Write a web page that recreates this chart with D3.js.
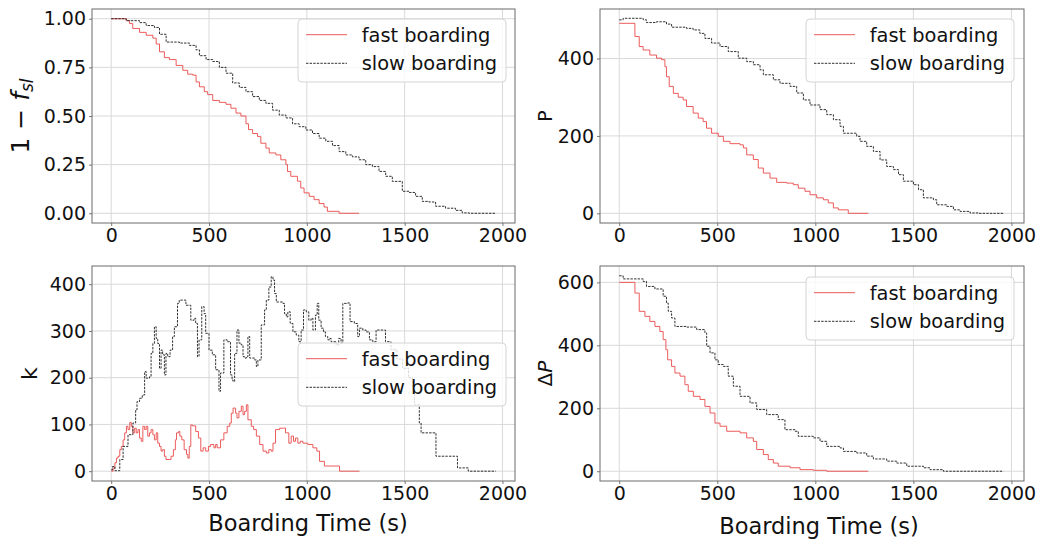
<!DOCTYPE html>
<html>
<head>
<meta charset="utf-8">
<script src="https://cdn.jsdelivr.net/npm/d3@7"></script>
<style>
  html, body { margin: 0; padding: 0; background: #fff; }
  svg { display: block; }
  text { font-family: "DejaVu Sans", sans-serif; fill: #111; }
</style>
</head>
<body>
<svg id="chart" width="1041" height="541"></svg>
<script>
// ---------------- DATA ----------------
const xTicks = [0, 500, 1000, 1500, 2000];
const seriesNames = ["fast boarding", "slow boarding"];

// Panel 1: 1 - f_sl
const fslTicks = [0, 0.25, 0.5, 0.75, 1.0];
const fslFast = [[0,1.0],[77,0.99],[94,0.975],[110,0.95],[145,0.93],[179,0.915],[213,0.9],[230,0.87],[247,0.83],[272,0.8],[298,0.79],[332,0.76],[366,0.735],[391,0.715],[417,0.71],[434,0.675],[451,0.65],[476,0.625],[493,0.61],[519,0.58],[553,0.57],[587,0.56],[612,0.54],[638,0.515],[663,0.5],[689,0.46],[702,0.43],[723,0.41],[748,0.395],[765,0.36],[791,0.335],[808,0.31],[842,0.3],[867,0.275],[893,0.25],[901,0.215],[918,0.19],[952,0.165],[969,0.13],[986,0.105],[1012,0.087],[1037,0.07],[1063,0.05],[1088,0.032],[1105,0.01],[1165,0.0],[1267,0.0]];
const fslSlow = [[0,1.0],[77,0.99],[145,0.98],[179,0.965],[221,0.955],[247,0.92],[281,0.88],[349,0.875],[400,0.863],[434,0.84],[451,0.81],[485,0.79],[519,0.78],[553,0.75],[587,0.72],[621,0.67],[655,0.647],[689,0.625],[723,0.6],[757,0.58],[791,0.565],[825,0.53],[859,0.505],[893,0.49],[927,0.46],[961,0.445],[995,0.428],[1029,0.41],[1063,0.386],[1097,0.37],[1131,0.348],[1165,0.317],[1199,0.3],[1233,0.29],[1267,0.275],[1301,0.25],[1335,0.24],[1369,0.215],[1403,0.19],[1437,0.164],[1488,0.113],[1522,0.107],[1556,0.087],[1590,0.061],[1624,0.058],[1658,0.036],[1709,0.026],[1760,0.015],[1794,0.002],[1830,0.0],[1964,0.0]];

// Panel 2: P
const pTicks = [0, 200, 400];
const pFast = [[0,491],[80,457],[102,431],[122,422],[156,409],[190,401],[216,397],[233,379],[241,353],[255,328],[276,310],[301,300],[326,293],[343,276],[377,259],[403,246],[428,237],[445,220],[471,207],[505,199],[531,186],[565,180],[616,177],[633,169],[650,151],[684,139],[709,117],[735,104],[769,91],[803,80],[854,78],[888,74],[913,65],[947,57],[973,48],[1007,40],[1041,35],[1066,27],[1092,14],[1117,9],[1168,0],[1270,0]];
const pSlow = [[0,500],[20,504],[122,500],[139,493],[190,495],[241,489],[267,481],[343,478],[377,474],[411,465],[437,452],[471,440],[514,431],[556,418],[607,401],[650,392],[684,384],[718,371],[735,358],[786,345],[820,336],[871,328],[905,311],[939,293],[973,280],[1024,268],[1058,255],[1092,242],[1126,225],[1143,207],[1211,199],[1228,186],[1262,173],[1296,160],[1330,138],[1364,121],[1398,113],[1424,100],[1449,83],[1500,74],[1526,61],[1551,40],[1602,35],[1619,22],[1670,18],[1704,9],[1738,5],[1789,1],[1830,0],[1959,0]];

// Panel 3: k
const kTicks = [0, 100, 200, 300, 400];
const kFast = [[0,0],[10,7],[19,18],[27,28],[35,32],[44,46],[52,53],[61,67],[69,82],[78,96],[86,89],[95,104],[103,96],[111,82],[120,92],[128,82],[137,89],[145,71],[154,64],[162,96],[171,89],[179,96],[187,75],[196,82],[204,89],[213,78],[221,67],[230,82],[238,60],[247,53],[255,43],[263,46],[272,32],[280,25],[297,25],[306,32],[318,46],[328,67],[334,82],[345,85],[351,75],[361,67],[373,46],[385,36],[392,28],[399,53],[407,99],[415,97],[432,85],[446,71],[458,43],[470,50],[483,43],[497,53],[508,57],[525,50],[534,57],[542,50],[559,67],[576,82],[593,96],[606,103],[614,124],[623,135],[636,124],[643,114],[653,128],[665,139],[674,121],[682,128],[691,142],[699,110],[716,96],[728,89],[742,75],[759,57],[776,43],[793,39],[806,46],[818,43],[827,60],[840,89],[861,92],[881,92],[891,82],[908,60],[920,75],[932,64],[942,71],[954,60],[966,64],[980,60],[1005,57],[1031,50],[1051,43],[1065,21],[1090,11],[1167,0],[1269,0]];
const kSlow = [[0,3],[7,10],[19,1],[35,1],[44,25],[61,53],[86,78],[111,103],[125,131],[132,149],[145,156],[159,163],[171,213],[179,199],[196,202],[204,252],[213,273],[221,309],[230,284],[238,273],[247,220],[255,259],[263,249],[272,206],[280,252],[289,245],[301,259],[314,288],[323,309],[339,359],[348,366],[373,366],[382,355],[399,355],[407,323],[424,327],[432,316],[441,245],[449,281],[463,352],[475,337],[483,295],[500,259],[517,249],[534,217],[551,171],[559,210],[576,281],[593,277],[610,206],[618,195],[623,192],[631,252],[643,302],[653,274],[665,270],[674,245],[682,242],[691,245],[699,288],[708,242],[733,238],[742,224],[750,238],[767,313],[784,345],[793,366],[806,394],[818,416],[827,409],[835,380],[844,362],[878,359],[886,337],[895,330],[903,341],[915,316],[929,298],[946,291],[959,277],[971,302],[983,345],[997,341],[1010,323],[1022,327],[1031,302],[1044,334],[1053,359],[1061,323],[1073,306],[1085,298],[1095,288],[1107,281],[1116,284],[1124,277],[1150,270],[1163,284],[1175,274],[1184,359],[1209,360],[1221,320],[1243,316],[1260,288],[1269,306],[1286,302],[1303,298],[1320,281],[1337,277],[1354,302],[1391,302],[1402,277],[1430,260],[1460,240],[1490,220],[1520,200],[1540,175],[1550,142],[1575,103],[1584,82],[1660,32],[1770,7],[1825,0],[1966,0]];

// Panel 4: ΔP
const dpTicks = [0, 200, 400, 600];
const dpFast = [[0,600],[80,566],[102,508],[131,492],[156,476],[182,460],[207,444],[224,418],[238,386],[247,354],[267,333],[284,312],[310,302],[335,275],[352,254],[378,238],[412,228],[437,206],[463,185],[488,153],[514,143],[548,127],[616,122],[650,106],[684,95],[701,69],[735,53],[760,37],[786,26],[811,16],[871,11],[922,5],[990,3],[1058,0],[1270,0]];
const dpSlow = [[0,621],[20,611],[122,603],[139,587],[182,579],[224,556],[241,534],[250,508],[267,487],[284,460],[344,458],[395,450],[437,439],[446,397],[463,376],[488,354],[505,339],[531,333],[556,302],[582,270],[616,238],[667,217],[701,196],[752,180],[811,164],[845,132],[896,127],[913,111],[990,106],[1024,95],[1058,79],[1126,74],[1143,63],[1211,58],[1262,48],[1296,39],[1364,32],[1415,26],[1466,16],[1551,11],[1585,5],[1653,0],[1959,0]];

// ---------------- DRAW ----------------
const svg = d3.select("#chart");
const xDomain = [-98, 2064];
const fastColor = "#ea4a4a";
const slowColor = "#1a1a1a";

const panels = [
  {fast: fslFast, slow: fslSlow, ticks: fslTicks, yDomain: [-0.05, 1.05], fmt: d3.format(".2f"),
   box: {x0: 92, x1: 515, y0: 9, y1: 223}, legend: {x: 298, y: 19}, xLabel: false, ylab: "fsl", ylx: 20},
  {fast: pFast, slow: pSlow, ticks: pTicks, yDomain: [-25, 528], fmt: d3.format("d"),
   box: {x0: 600, x1: 1024, y0: 9, y1: 223}, legend: {x: 806, y: 19}, xLabel: false, ylab: "P", ylx: 545},
  {fast: kFast, slow: kSlow, ticks: kTicks, yDomain: [-21, 439], fmt: d3.format("d"),
   box: {x0: 92, x1: 515, y0: 266, y1: 481}, legend: {x: 298, y: 343}, xLabel: true, xlx: 308, xly: 531, ylab: "k", ylx: 29},
  {fast: dpFast, slow: dpSlow, ticks: dpTicks, yDomain: [-31, 652], fmt: d3.format("d"),
   box: {x0: 600, x1: 1024, y0: 266, y1: 481}, legend: {x: 806, y: 277}, xLabel: true, xlx: 819, xly: 534, ylab: "dP", ylx: 545}
];

panels.forEach((p, i) => {
  const b = p.box;
  const x = d3.scaleLinear().domain(xDomain).range([b.x0, b.x1]);
  const y = d3.scaleLinear().domain(p.yDomain).range([b.y1, b.y0]);
  const g = svg.append("g");

  // grid
  g.append("g").selectAll("line").data(xTicks).join("line")
    .attr("x1", d => x(d)).attr("x2", d => x(d)).attr("y1", b.y0).attr("y2", b.y1)
    .attr("stroke", "#d9d9d9").attr("stroke-width", 1);
  g.append("g").selectAll("line").data(p.ticks).join("line")
    .attr("x1", b.x0).attr("x2", b.x1).attr("y1", d => y(d)).attr("y2", d => y(d))
    .attr("stroke", "#d9d9d9").attr("stroke-width", 1);

  // clip
  const clipId = "clip" + i;
  svg.append("clipPath").attr("id", clipId).append("rect")
    .attr("x", b.x0).attr("y", b.y0).attr("width", b.x1 - b.x0).attr("height", b.y1 - b.y0);

  const line = d3.line().x(d => x(d[0])).y(d => y(d[1])).curve(d3.curveStepAfter);
  const lines = g.append("g").attr("clip-path", `url(#${clipId})`);
  lines.append("path").datum(p.fast).attr("d", line)
    .attr("fill", "none").attr("stroke", fastColor).attr("stroke-width", 0.9);
  lines.append("path").datum(p.slow).attr("d", line)
    .attr("fill", "none").attr("stroke", slowColor).attr("stroke-width", 0.9)
    .attr("stroke-dasharray", "2.4,1.2");

  // axes
  const xa = g.append("g").attr("transform", `translate(0,${b.y1})`)
    .call(d3.axisBottom(x).tickValues(xTicks).tickSize(3).tickPadding(3).tickFormat(d3.format("d")));
  const ya = g.append("g").attr("transform", `translate(${b.x0},0)`)
    .call(d3.axisLeft(y).tickValues(p.ticks).tickSize(3).tickPadding(3).tickFormat(p.fmt));
  [xa, ya].forEach(a => {
    a.select(".domain").remove();
    a.selectAll(".tick line").attr("stroke", "#777");
    a.selectAll(".tick text").attr("font-size", 19).attr("font-family", "DejaVu Sans").attr("fill", "#111");
  });

  // spines
  g.append("rect").attr("x", b.x0).attr("y", b.y0).attr("width", b.x1 - b.x0).attr("height", b.y1 - b.y0)
    .attr("fill", "none").attr("stroke", "#6a6a6a").attr("stroke-width", 1);

  // y label
  const cy = (b.y0 + b.y1) / 2;
  const yl = g.append("text").attr("transform", `translate(${p.ylx},${cy}) rotate(-90)`)
    .attr("text-anchor", "middle").attr("dy", "0.36em");
  if (p.ylab === "fsl") {
    yl.attr("font-size", 25);
    yl.append("tspan").text("1 \u2212 ");
    yl.append("tspan").attr("font-style", "italic").text("f");
    yl.append("tspan").attr("font-style", "italic").attr("font-size", 17).attr("dy", "0.25em").text("sl");
  } else if (p.ylab === "P") {
    yl.attr("font-size", 19).text("P");
  } else if (p.ylab === "k") {
    yl.attr("font-size", 22).text("k");
  } else {
    yl.attr("font-size", 20);
    yl.append("tspan").text("\u0394");
    yl.append("tspan").attr("font-style", "italic").text("P");
  }

  // x label
  if (p.xLabel) {
    g.append("text").attr("x", p.xlx).attr("y", p.xly).attr("text-anchor", "middle")
      .attr("font-family", "Roboto").attr("font-size", 22.5).text("Boarding Time (s)");
  }

  // legend
  const L = g.append("g").attr("transform", `translate(${p.legend.x},${p.legend.y})`);
  L.append("rect").attr("width", 208).attr("height", 63).attr("rx", 4)
    .attr("fill", "#fff").attr("fill-opacity", 0.8).attr("stroke", "#d4d4d4").attr("stroke-width", 1);
  seriesNames.forEach((name, j) => {
    const ly = 15.7 + j * 28.6;
    L.append("line").attr("x1", 8).attr("x2", 49).attr("y1", ly).attr("y2", ly)
      .attr("stroke", j === 0 ? fastColor : slowColor).attr("stroke-width", 0.9)
      .attr("stroke-dasharray", j === 0 ? null : "2.4,1.2");
    L.append("text").attr("x", 63.7).attr("y", ly).attr("dy", "0.36em")
      .attr("font-size", 19.4).text(name);
  });
});
</script>
</body>
</html>
